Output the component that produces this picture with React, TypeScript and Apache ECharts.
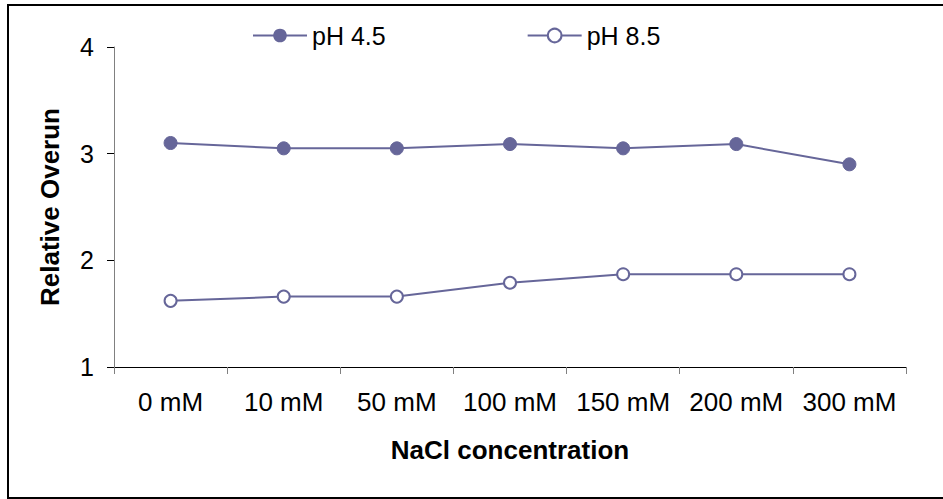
import React, { useEffect, useRef } from "react";
import * as echarts from "echarts";

const categories = ["0 mM", "10 mM", "50 mM", "100 mM", "150 mM", "200 mM", "300 mM"];
const ph45 = [3.1, 3.05, 3.05, 3.09, 3.05, 3.09, 2.9];
const ph85 = [1.62, 1.66, 1.66, 1.79, 1.87, 1.87, 1.87];
const seriesNames = ["pH 4.5", "pH 8.5"];
const yAxisName = "Relative Overun";
const xAxisName = "NaCl concentration";

const COLOR = "#666699";
const FONT = "Liberation Sans, Arial, sans-serif";

export default function App() {
  const ref = useRef<HTMLDivElement>(null);
  useEffect(() => {
    if (!ref.current) return;
    const chart = echarts.init(ref.current, null, { renderer: "svg" });
    chart.setOption({
      animation: false,
      backgroundColor: "#ffffff",
      textStyle: { fontFamily: FONT },
      grid: { left: 114, right: 37, top: 47, bottom: 132, containLabel: false },
      legend: {
        left: 252,
        top: 23,
        padding: 0,
        itemWidth: 54,
        itemHeight: 17,
        itemGap: 141,
        textStyle: { fontSize: 25, color: "#000", fontFamily: FONT },
        data: seriesNames,
      },
      xAxis: {
        type: "category",
        data: categories,
        boundaryGap: true,
        axisLine: { lineStyle: { color: "#000", width: 1 } },
        axisTick: { show: true, interval: 0, length: 7, lineStyle: { color: "#808080" } },
        axisLabel: { fontSize: 26, color: "#000", margin: 22, interval: 0, fontFamily: FONT },
        name: xAxisName,
        nameLocation: "middle",
        nameGap: 70,
        nameTextStyle: { fontSize: 26, fontWeight: "bold", color: "#000", fontFamily: FONT },
        splitLine: { show: false },
      },
      yAxis: {
        type: "value",
        min: 1,
        max: 4,
        interval: 1,
        axisLine: { show: true, lineStyle: { color: "#808080", width: 1 } },
        axisTick: { show: true, length: 7, lineStyle: { color: "#000" } },
        axisLabel: { fontSize: 25, color: "#000", margin: 20, fontFamily: FONT },
        splitLine: { show: false },
        name: yAxisName,
        nameLocation: "middle",
        nameGap: 51,
        nameTextStyle: { fontSize: 26, fontWeight: "bold", color: "#000", fontFamily: FONT },
      },
      graphic: [
        {
          type: "rect",
          shape: { x: 8, y: 5, width: 945, height: 493 },
          style: { fill: "none", stroke: "#000", lineWidth: 2 },
          silent: true,
          z: 100,
        },
      ],
      series: [
        {
          name: seriesNames[0],
          type: "line",
          data: ph45,
          symbol: "circle",
          symbolSize: 13,
          lineStyle: { color: COLOR, width: 2 },
          itemStyle: { color: COLOR, borderColor: COLOR },
        },
        {
          name: seriesNames[1],
          type: "line",
          data: ph85,
          symbol: "circle",
          symbolSize: 12,
          lineStyle: { color: COLOR, width: 2 },
          itemStyle: { color: "#ffffff", borderColor: COLOR, borderWidth: 2 },
        },
      ],
    });
    return () => chart.dispose();
  }, []);
  return (
    <div
      ref={ref}
      style={{ position: "fixed", left: 0, top: 0, width: 943, height: 499 }}
    />
  );
}
